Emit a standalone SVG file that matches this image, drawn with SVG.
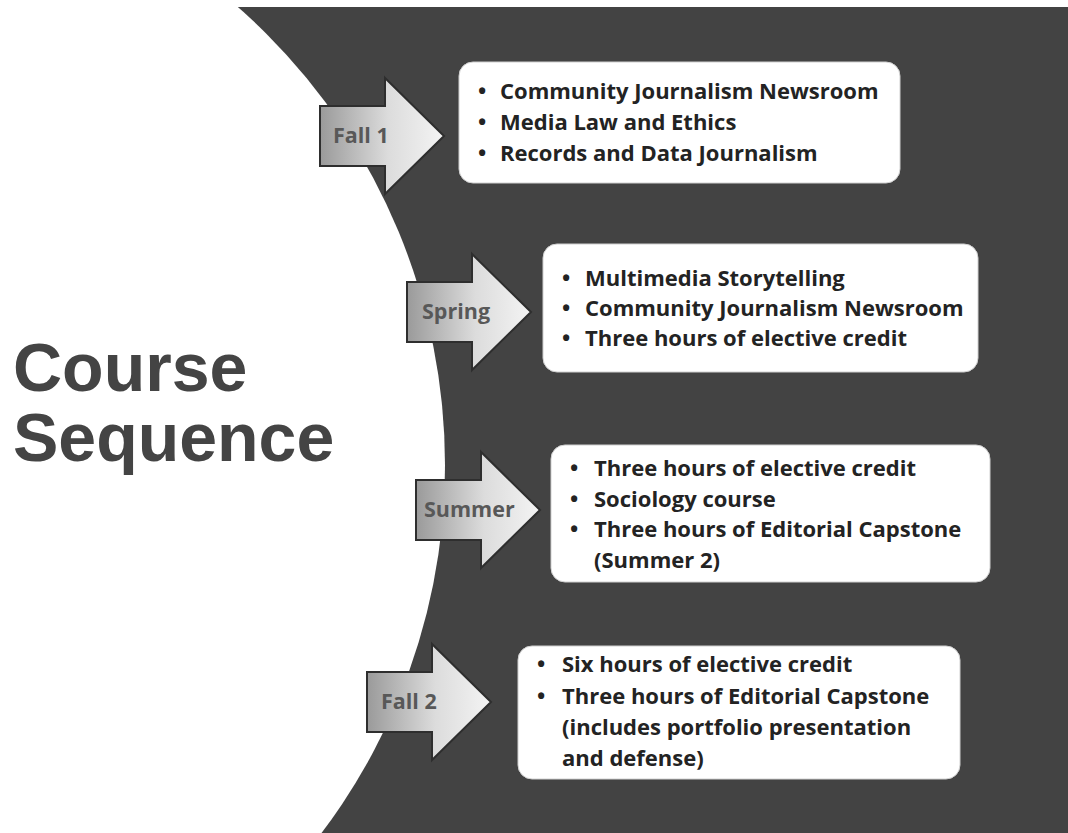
<svg xmlns="http://www.w3.org/2000/svg" width="1068" height="833" viewBox="0 0 1068 833">
  <defs>
    <linearGradient id="arrowFill" x1="0" y1="0" x2="1" y2="0">
      <stop offset="0" stop-color="#9a9a9a"/>
      <stop offset="0.55" stop-color="#dcdcdc"/>
      <stop offset="1" stop-color="#f4f4f4"/>
    </linearGradient>
    <path id="arrowShape" d="M0,-30 H65 V-58 L124,0 L65,58 V30 H0 Z"/>
  </defs>
  <style>
    .arrow { fill: url(#arrowFill); stroke: #2e2e2e; stroke-width: 2; stroke-linejoin: miter; }
    .label { font-family: "Open Sans", "Noto Sans", sans-serif; font-weight: 700; font-size: 21.5px; fill: #585858; }
    .box { fill: #ffffff; stroke: #d0d0d0; stroke-width: 1; }
    .item { font-family: "Open Sans", "Noto Sans", sans-serif; font-weight: 700; font-size: 22px; fill: #232323; }
    .title { font-family: "Liberation Sans", Arial, sans-serif; font-weight: 700; font-size: 68px; fill: #444444; }
  </style>

  <!-- background: dark field cut by a large white disc on the left -->
  <rect x="0" y="0" width="1068" height="833" fill="#ffffff"/>
  <rect x="0" y="7" width="1068" height="826" fill="#434343"/>
  <circle cx="-165" cy="465" r="610" fill="#ffffff"/>

  <g id="title">
    <text class="title" x="13" y="391">Course</text>
    <text class="title" x="13" y="461">Sequence</text>
  </g>

  <g id="connectors"></g>

  <!-- Fall 1 -->
  <g id="fall1">
    <use href="#arrowShape" class="arrow" transform="translate(320,136)"/>
    <text class="label" x="333" y="143">Fall 1</text>
    <rect class="box" x="459" y="62" width="441" height="121" rx="14"/>
    <text class="item"><tspan x="478" y="99">•</tspan><tspan x="500" y="99">Community Journalism Newsroom</tspan></text>
    <text class="item"><tspan x="478" y="130">•</tspan><tspan x="500" y="130">Media Law and Ethics</tspan></text>
    <text class="item"><tspan x="478" y="161">•</tspan><tspan x="500" y="161">Records and Data Journalism</tspan></text>
  </g>

  <!-- Spring -->
  <g id="spring">
    <use href="#arrowShape" class="arrow" transform="translate(407,312)"/>
    <text class="label" x="422" y="319">Spring</text>
    <rect class="box" x="543" y="244" width="435" height="128" rx="14"/>
    <text class="item"><tspan x="562" y="286">•</tspan><tspan x="585" y="286">Multimedia Storytelling</tspan></text>
    <text class="item"><tspan x="562" y="316">•</tspan><tspan x="585" y="316">Community Journalism Newsroom</tspan></text>
    <text class="item"><tspan x="562" y="346">•</tspan><tspan x="585" y="346">Three hours of elective credit</tspan></text>
  </g>

  <!-- Summer -->
  <g id="summer">
    <use href="#arrowShape" class="arrow" transform="translate(416,510)"/>
    <text class="label" x="424" y="517">Summer</text>
    <rect class="box" x="551" y="445" width="439" height="137" rx="14"/>
    <text class="item"><tspan x="570" y="476">•</tspan><tspan x="594" y="476">Three hours of elective credit</tspan></text>
    <text class="item"><tspan x="570" y="507">•</tspan><tspan x="594" y="507">Sociology course</tspan></text>
    <text class="item"><tspan x="570" y="537">•</tspan><tspan x="594" y="537">Three hours of Editorial Capstone</tspan></text>
    <text class="item" x="594" y="568">(Summer 2)</text>
  </g>

  <!-- Fall 2 -->
  <g id="fall2">
    <use href="#arrowShape" class="arrow" transform="translate(367,702)"/>
    <text class="label" x="381" y="709">Fall 2</text>
    <rect class="box" x="518" y="646" width="442" height="133" rx="14"/>
    <text class="item"><tspan x="537" y="672">•</tspan><tspan x="562" y="672">Six hours of elective credit</tspan></text>
    <text class="item"><tspan x="537" y="704">•</tspan><tspan x="562" y="704">Three hours of Editorial Capstone</tspan></text>
    <text class="item" x="562" y="735">(includes portfolio presentation</text>
    <text class="item" x="562" y="766">and defense)</text>
  </g>
</svg>
